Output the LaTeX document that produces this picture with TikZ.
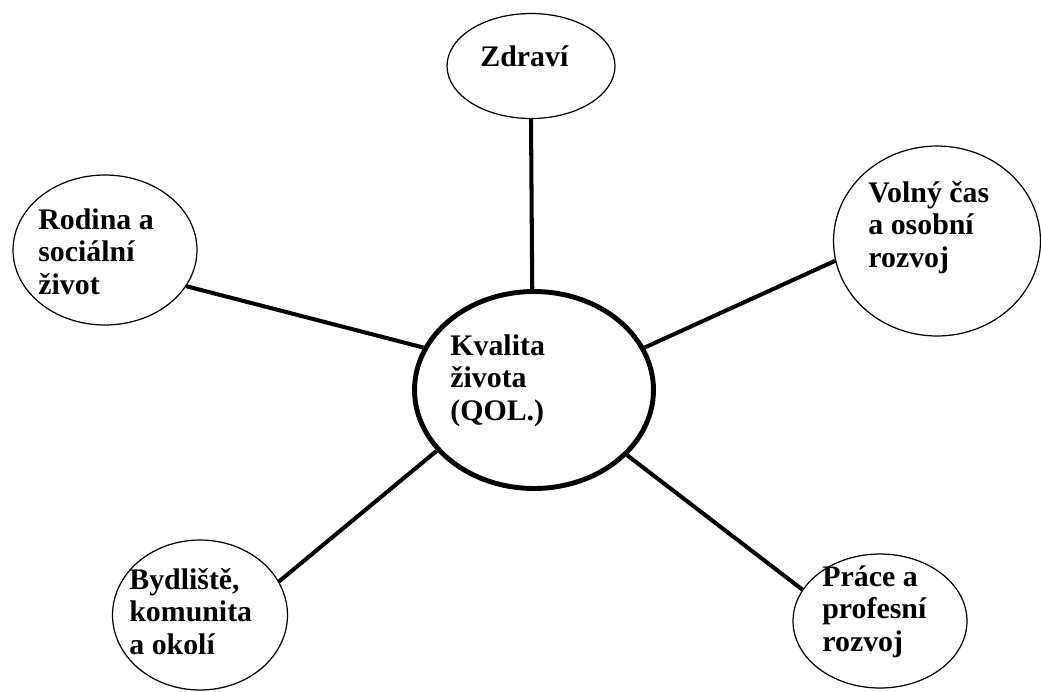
\documentclass[tikz,border=0pt]{standalone}
\usepackage{fontspec}
\setmainfont{Liberation Serif}[BoldFont={Liberation Serif Bold}]
\usetikzlibrary{shapes.geometric}

\begin{document}
\begin{tikzpicture}[x=0.02cm, y=-0.02cm,
    topic/.style={draw, ellipse, line width=0.7pt, inner sep=0pt},
    hub/.style={draw, ellipse, line width=2.8pt, inner sep=0pt},
    link/.style={line width=2.3pt},
    caption/.style={anchor=north west, align=left, inner sep=0pt,
        font=\fontsize{17}{18.5}\selectfont\bfseries}]
    \useasboundingbox (0,0) rectangle (1041,691);

    % Ellipses
    \node[hub, minimum width=4.78cm, minimum height=3.94cm] (qol) at (534,390) {};
    \node[topic, minimum width=3.36cm, minimum height=2.10cm] (zdravi) at (531,66) {};
    \node[topic, minimum width=3.68cm, minimum height=3.00cm] (rodina) at (105,250) {};
    \node[topic, minimum width=4.14cm, minimum height=3.80cm] (volno) at (937,241) {};
    \node[topic, minimum width=3.50cm, minimum height=3.00cm] (bydliste) at (200,615) {};
    \node[topic, minimum width=3.48cm, minimum height=2.68cm] (prace) at (880,621) {};

    % Texts
    \node[caption] (qol-text) at (450,334) {Kvalita\\života\\(QOL.)};
    \node[caption] (zdravi-text) at (480,45) {Zdraví};
    \node[caption] (rodina-text) at (38,208) {Rodina a\\sociální\\život};
    \node[caption] (volno-text) at (868,181) {Volný čas\\a osobní\\rozvoj};
    \node[caption] (bydliste-text) at (129,568) {Bydliště,\\komunita\\a okolí};
    \node[caption] (prace-text) at (822,565) {Práce a\\profesní\\rozvoj};

    % Links to the centre
    \draw[link] (zdravi.south) -- (qol.91);
    \draw[link] (rodina.-24) -- (qol.159);
    \draw[link] (volno.191) -- (qol.21);
    \draw[link] (bydliste.23) -- (qol.212);
    \draw[link] (prace.158) -- (qol.325);
\end{tikzpicture}
\end{document}
